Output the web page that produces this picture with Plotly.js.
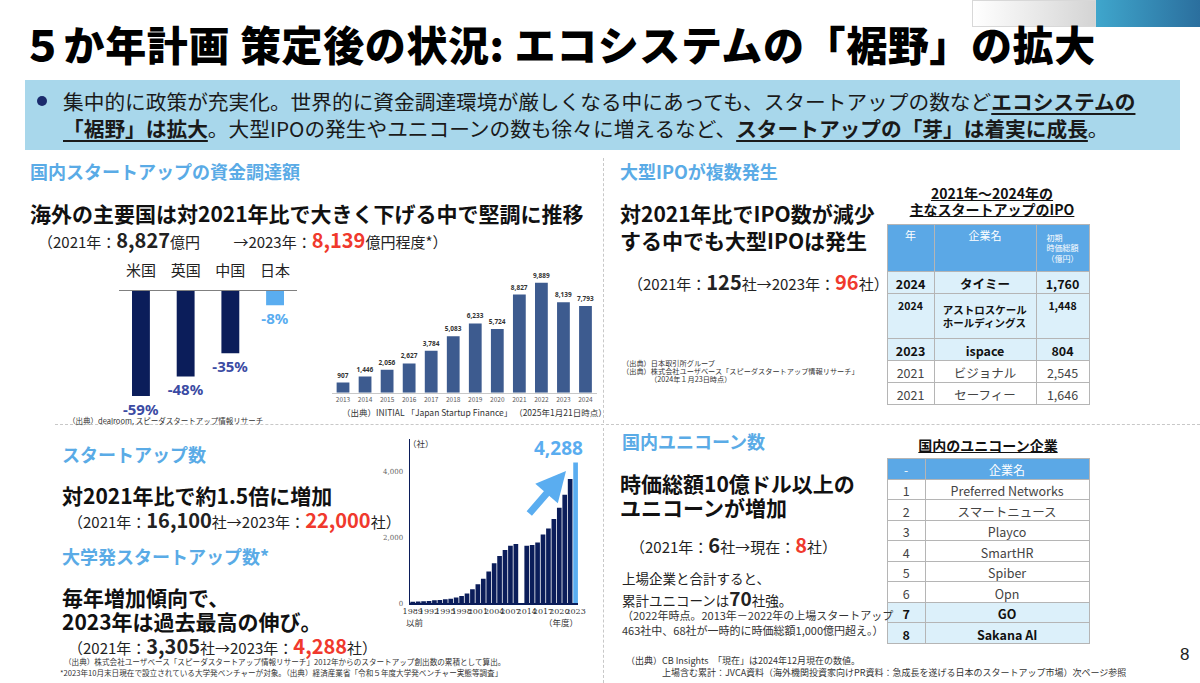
<!DOCTYPE html>
<html><head><meta charset="utf-8">
<script src="https://cdn.plot.ly/plotly-3.0.1.min.js"></script>
<style>
body{margin:0;background:#fff;}
#wrap{position:relative;width:1200px;height:683px;overflow:hidden;font-family:"Noto Sans CJK JP","Noto Sans",sans-serif;background:#fff;}
#bg,#plot,#txt{position:absolute;left:0;top:0;width:1200px;height:683px;}
#txt{pointer-events:none;}
.t{position:absolute;white-space:nowrap;color:#111;}
.b{font-weight:700;}
.r{color:#f0392d;font-weight:700;}
.u{text-decoration:underline;text-underline-offset:3px;font-weight:700;}
.hd{color:#5aabe6;font-weight:700;}
</style></head>
<body><div id="wrap"><div id="bg"></div><div id="plot"></div><div id="txt"></div></div>
<script>
// ---------- data ----------
const countryNames = ['米国','英国','中国','日本'];
const countryChange = [-59,-48,-35,-8];

const fundYears = ['2013','2014','2015','2016','2017','2018','2019','2020','2021','2022','2023','2024'];
const fundValues = [907,1446,2056,2627,3784,5083,6233,5724,8827,9889,8139,7793];

const univCats = ['1989以前','1990','1991','1992','1993','1994','1995','1996','1997','1998','1999','2000','2001','2002','2003','2004','2005','2006','2007','2008','2009-2013','2014','2015','2016','2017','2018','2019','2020','2021','2022','2023'];
const univValues = [50,55,60,70,90,100,120,140,175,225,300,425,580,750,965,1220,1440,1625,1755,1805,null,1749,1773,1851,2093,2278,2566,2905,3305,3782,4288];
const univTickVals = ['1989以前','1992','1995','1998','2001','2004','2007','2014','2017','2020','2023'];
const univTickText = ['1989','1992','1995','1998','2001','2004','2007','2014','2017','2020','2023'];

const ipoHeader = ['年','企業名','初期<br>時価総額<br>（億円）'];
const ipoYears = ['2024','2024','2023','2021','2021'];
const ipoNames = ['タイミー','アストロスケール<br>ホールディングス','ispace','ビジョナル','セーフィー'];
const ipoCaps = ['1,760','1,448','804','2,545','1,646'];
const ipoHighlight = [true,true,true,false,false];

const unicornHeader = ['-','企業名'];
const unicornNo = ['1','2','3','4','5','6','7','8'];
const unicornNames = ['Preferred Networks','スマートニュース','Playco','SmartHR','Spiber','Opn','GO','Sakana AI'];
const unicornHighlight = [false,false,false,false,false,false,true,true];

// ---------- helpers ----------
const W=1200,H=683;
const px=x=>x/W, py=y=>1-y/H;
const FONT='"Noto Sans CJK JP","Noto Sans",sans-serif';
const NAVY='#0b1d5a', LBLUE='#5aadf0', HEAD='#5ba8e6', ROWHL='#dcf0fa';

const bg=document.getElementById('bg'), txt=document.getElementById('txt');
function R(x,y,w,h,style){const d=document.createElement('div');d.style.cssText='position:absolute;left:'+x+'px;top:'+y+'px;width:'+w+'px;height:'+h+'px;'+(style||'');bg.appendChild(d);return d;}
function T(x,y,size,html,style,lhOverride){const d=document.createElement('div');d.className='t';const lh=lhOverride||Math.round(size*1.3);d.style.left=x+'px';d.style.top=(y-lh/2)+'px';d.style.height=lh+'px';d.style.lineHeight=lh+'px';d.style.fontSize=size+'px';d.innerHTML=html;if(style)d.style.cssText+=style;txt.appendChild(d);return d;}

// ---------- background decoration ----------
R(972,0,124,27,'background:linear-gradient(90deg,#ffffff,#d4d4d4);border:1px solid #d8d8d8;box-sizing:border-box;');
R(1096,0,104,27,'background:linear-gradient(90deg,#3fa6cc,#2b6f9e);');
R(25,80,1155,70,'background:#a8d7eb;');
R(37,96,10,10,'background:#1a2a6c;border-radius:50%;');
R(603,158,0,265,'border-left:1px dashed #c8c8c8;');
R(603,428,0,255,'border-left:1px dashed #c8c8c8;');
R(55,424,1145,0,'border-top:1px dashed #c8c8c8;');

// ---------- texts ----------
T(22,43,41,'５か年計画 策定後の状況: エコシステムの「裾野」の拡大','font-weight:900;color:#000;letter-spacing:0.6px;');
T(63,101,20.7,'集中的に政策が充実化。世界的に資金調達環境が厳しくなる中にあっても、スタートアップの数など<span class="u">エコシステムの</span>','color:#1a1a1a;');
T(63,128,20.7,'<span class="u">「裾野」は拡大</span>。大型IPOの発生やユニコーンの数も徐々に増えるなど、<span class="u">スタートアップの「芽」は着実に成長</span>。','color:#1a1a1a;');

T(30,171,18,'国内スタートアップの資金調達額').classList.add('hd');
T(30,213,21,'海外の主要国は対2021年比で大きく下げる中で堅調に推移','font-weight:700;');
T(38,240,15,'（2021年：<span class="b" style="font-size:20px">8,827</span>億円　　 →2023年：<span class="r" style="font-size:20px">8,139</span>億円程度*）','color:#222;');
T(68,421,7.5,'（出典）dealroom, スピーダスタートアップ情報リサーチ','color:#333;',8);
T(342,412,8.5,'（出典）INITIAL 「Japan Startup Finance」 （2025年1月21日時点）','color:#333;');

T(620,171,18,'大型IPOが複数発生').classList.add('hd');
T(620,213,21,'対2021年比でIPO数が減少','font-weight:700;');
T(620,240,21,'する中でも大型IPOは発生','font-weight:700;');
T(628,282,15,'（2021年：<span class="b" style="font-size:20px">125</span>社→2023年：<span class="r" style="font-size:20px">96</span>社）','color:#222;');
T(622,363,7.2,'（出典）日本取引所グループ','color:#333;',8);
T(622,371,7.2,'（出典）株式会社ユーザベース「スピーダスタートアップ情報リサーチ」','color:#333;',8);
T(650,379,7.2,'（2024年１月23日時点）','color:#333;',8);
T(992,193,14,'2021年～2024年の','font-weight:700;text-decoration:underline;transform:translateX(-50%);',16);
T(992,209,14,'主なスタートアップのIPO','font-weight:700;text-decoration:underline;transform:translateX(-50%);',16);

T(62,454,18,'スタートアップ数').classList.add('hd');
T(62,495,21,'対2021年比で約1.5倍に増加','font-weight:700;');
T(68,520,15,'（2021年：<span class="b" style="font-size:20px">16,100</span>社→2023年：<span class="r" style="font-size:20px">22,000</span>社）','color:#222;');
T(62,556,18,'大学発スタートアップ数*').classList.add('hd');
T(62,597,21,'毎年増加傾向で、','font-weight:700;',22);
T(62,621,21,'2023年は過去最高の伸び。','font-weight:700;',22);
T(68,646,15,'（2021年：<span class="b" style="font-size:20px">3,305</span>社→2023年：<span class="r" style="font-size:20px">4,288</span>社）','color:#222;',18);
T(64,662,7.6,'（出典）株式会社ユーザベース「スピーダスタートアップ情報リサーチ」2012年からのスタートアップ創出数の累積として算出。','color:#333;',10);
T(60,673,7.6,'*2023年10月末日現在で設立されている大学発ベンチャーが対象。（出典）経済産業省「令和５年度大学発ベンチャー実態等調査」','color:#333;',10);

T(622,441,18,'国内ユニコーン数').classList.add('hd');
T(620,483,21,'時価総額10億ドル以上の','font-weight:700;',24);
T(620,507,21,'ユニコーンが増加','font-weight:700;',24);
T(630,545,15,'（2021年：<span class="b" style="font-size:20px">6</span>社→現在：<span class="r" style="font-size:20px">8</span>社）','color:#222;');
T(622,578,13.5,'上場企業と合計すると、','color:#222;',17);
T(622,598,13.5,'累計ユニコーンは<span class="b" style="font-size:19px">70</span>社強。','color:#222;',18);
T(622,615,11,'（2022年時点。2013年－2022年の上場スタートアップ','color:#333;',14);
T(622,630,11,'463社中、68社が一時的に時価総額1,000億円超え。）','color:#333;',14);
T(988,445,14,'国内のユニコーン企業','font-weight:700;text-decoration:underline;transform:translateX(-50%);',16);
T(626,660,9,'（出典）CB Insights　「現在」は2024年12月現在の数値。','color:#333;',11);
T(662,672,9,'上場含む累計：JVCA資料（海外機関投資家向けPR資料：急成長を遂げる日本のスタートアップ市場）次ページ参照','color:#333;',11);
T(1180,655,17,'8','color:#222;font-family:"Liberation Sans",sans-serif;');

// ---------- plotly ----------
const wt=(hl)=>hl.map(h=>h?'bold':'normal');
const traces=[
 {type:'bar',x:countryNames,y:countryChange,xaxis:'x',yaxis:'y',width:0.4,
  marker:{color:countryNames.map((c,i)=>i===3?LBLUE:NAVY)},
  text:countryChange.map(v=>'<b>'+v+'%</b>'),textposition:'outside',constraintext:'none',cliponaxis:false,
  textfont:{family:'"Noto Sans","Noto Sans CJK JP",sans-serif',size:15,color:countryNames.map((c,i)=>i===3?LBLUE:'#3b4ba3')},hoverinfo:'none'},
 {type:'bar',x:fundYears,y:fundValues,xaxis:'x2',yaxis:'y2',width:0.58,marker:{color:'#3d5b8f'},
  text:fundValues.map(v=>'<b>'+v.toLocaleString('en-US')+'</b>'),textposition:'outside',constraintext:'none',cliponaxis:false,
  textfont:{family:'"Noto Sans",sans-serif',size:6.5,color:'#333'},hoverinfo:'none'},
 {type:'bar',x:univCats,y:univValues,xaxis:'x3',yaxis:'y3',width:0.86,
  marker:{color:univCats.map((c,i)=>i===univCats.length-1?LBLUE:NAVY)},hoverinfo:'none'},
 {type:'table',domain:{x:[px(887),px(1089)],y:[py(420),py(224)]},columnwidth:[47,102,53],
  header:{values:ipoHeader,fill:{color:HEAD},align:'center',height:43,
   font:{family:FONT,size:[11,11,8],color:'#fff'},line:{color:'#b5b5b5',width:1}},
  cells:{values:[ipoYears,ipoNames,ipoCaps],
   fill:{color:[0,1,2].map(()=>ipoHighlight.map(h=>h?ROWHL:'#fff'))},align:'center',height:22,
   font:{family:FONT,size:[0,1,2].map(()=>ipoNames.map(n=>n.indexOf('<br>')>=0?10.5:12.5)),
     color:[0,1,2].map(()=>ipoHighlight.map(h=>h?'#111':'#444')),weight:[0,1,2].map(()=>wt(ipoHighlight))},
   line:{color:'#b5b5b5',width:1}}},
 {type:'table',domain:{x:[px(887),px(1089)],y:[py(650),py(458)]},columnwidth:[38,163],
  header:{values:unicornHeader,fill:{color:HEAD},align:'center',height:21,
   font:{family:FONT,size:12,color:'#fff'},line:{color:'#b5b5b5',width:1}},
  cells:{values:[unicornNo,unicornNames],
   fill:{color:[0,1].map(()=>unicornHighlight.map(h=>h?ROWHL:'#fff'))},align:'center',height:20.5,
   font:{family:FONT,size:12.5,color:[0,1].map(()=>unicornHighlight.map(h=>h?'#111':'#444')),weight:[0,1].map(()=>wt(unicornHighlight))},
   line:{color:'#b5b5b5',width:1}}}
];

const layout={width:W,height:H,margin:{l:0,r:0,t:0,b:0},showlegend:false,
 paper_bgcolor:'rgba(0,0,0,0)',plot_bgcolor:'rgba(0,0,0,0)',font:{family:FONT},
 xaxis:{domain:[px(118.6),px(297.4)],anchor:'y',type:'category',side:'top',showline:true,linecolor:'#808080',linewidth:1.5,
   ticks:'',tickfont:{size:15,color:'#222'},ticklabelstandoff:8,showgrid:false,zeroline:false,fixedrange:true},
 yaxis:{domain:[py(420),py(291)],anchor:'x',range:[-72.5,0],visible:false,showgrid:false,zeroline:false},
 xaxis2:{domain:[px(332),px(596.5)],anchor:'y2',type:'category',showline:true,linecolor:'#c8c8c8',linewidth:1,
   ticks:'',tickfont:{size:6.5,color:'#595959'},showgrid:false,zeroline:false},
 yaxis2:{domain:[py(392.7),py(270.4)],anchor:'x2',range:[0,11000],visible:false,showgrid:false,zeroline:false},
 xaxis3:{domain:[px(410),px(578.3)],anchor:'y3',type:'category',showline:true,linecolor:NAVY,linewidth:1.5,
   ticks:'',tickvals:univTickVals,ticktext:univTickText,tickangle:0,tickfont:{family:'"DejaVu Serif",serif',size:8,color:'#333'},showgrid:false,zeroline:false},
 yaxis3:{domain:[py(603.3),py(439)],anchor:'x3',range:[0,5000],showline:true,linecolor:NAVY,linewidth:1.5,
   ticks:'',tickvals:[0,2000,4000],ticktext:['0','2,000','4,000'],tickfont:{family:'"DejaVu Serif",serif',size:7,color:'#666'},
   showgrid:false,zeroline:false,ticklabelstandoff:4},
 annotations:[
  {xref:'paper',yref:'paper',x:px(558),y:py(448),text:'<b>4,288</b>',showarrow:false,font:{size:19,color:LBLUE,family:'"Noto Sans",sans-serif'}},
  {xref:'paper',yref:'paper',x:px(566),y:py(471),text:'',showarrow:true,ax:-38,ay:44,arrowhead:2,arrowsize:0.85,arrowwidth:7,arrowcolor:LBLUE},
  {xref:'paper',yref:'paper',x:px(421),y:py(443),text:'（社）',showarrow:false,font:{size:8.5,color:'#333'}},
  {xref:'paper',yref:'paper',x:px(415),y:py(630),text:'以前',showarrow:false,font:{size:8.5,color:'#333'}},
  {xref:'paper',yref:'paper',x:px(561),y:py(630),text:'（年度）',showarrow:false,font:{size:8.5,color:'#333'}}
 ]};
Plotly.newPlot('plot',traces,layout,{staticPlot:true,displayModeBar:false});
</script></body></html>
